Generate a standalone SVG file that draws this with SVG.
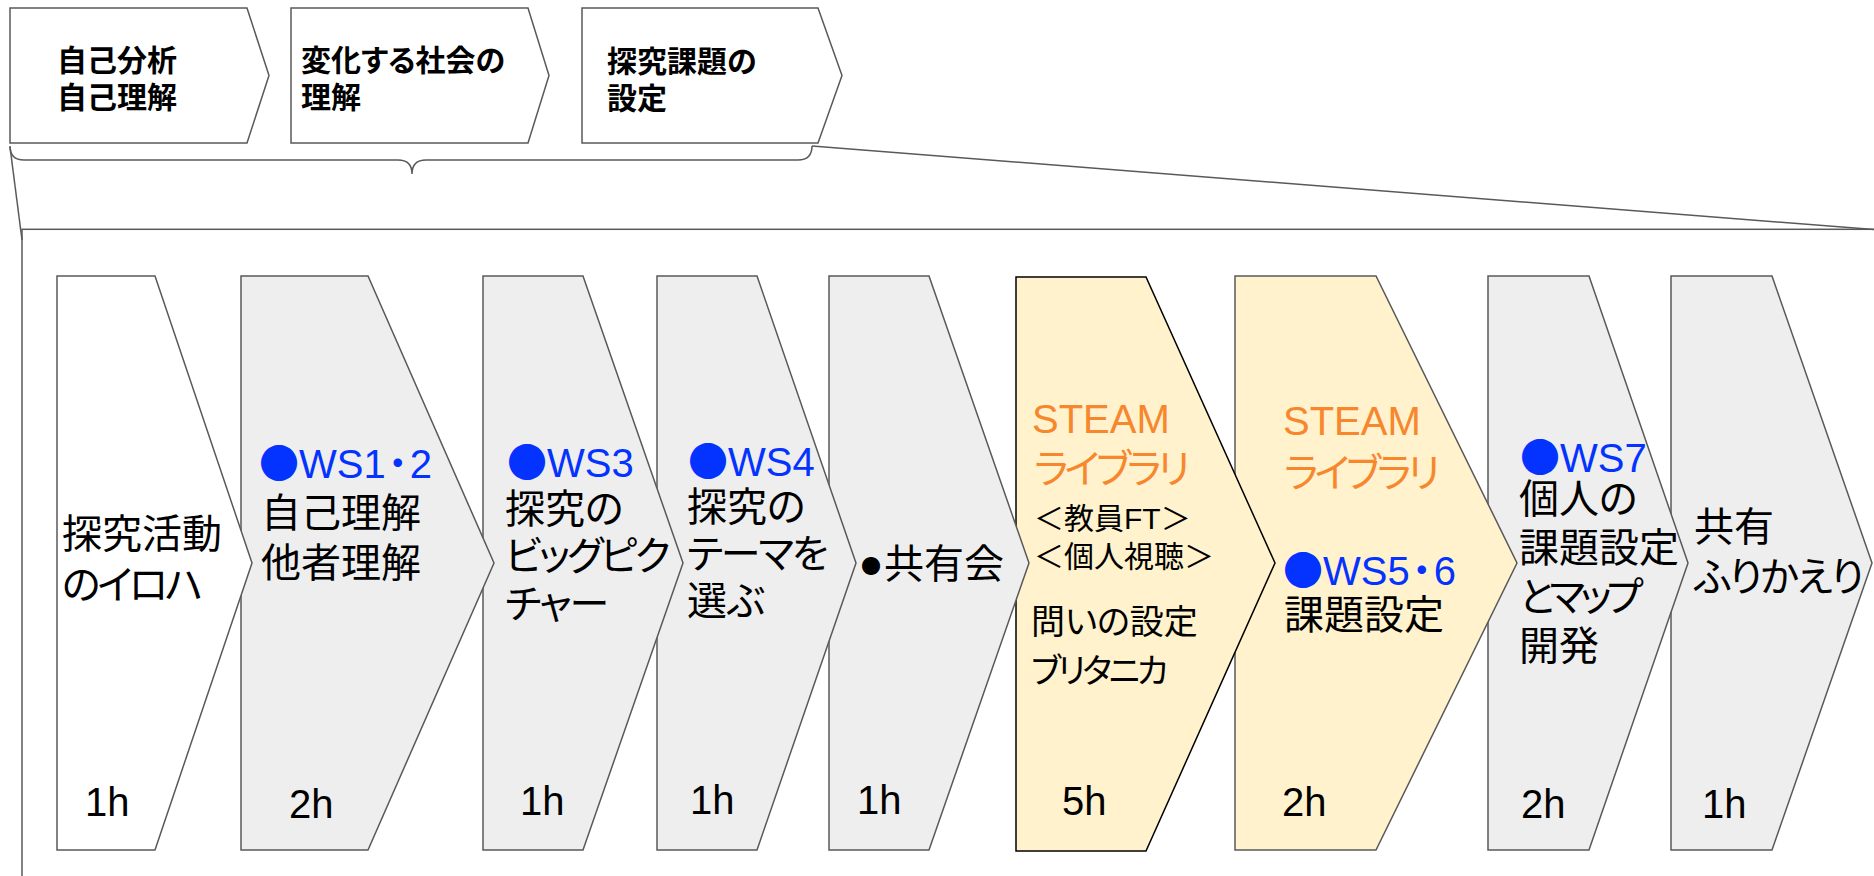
<svg xmlns="http://www.w3.org/2000/svg" width="1874" height="876" viewBox="0 0 1874 876">
<style>
.ln{fill:none;stroke:#595959;stroke-width:1.5}
.wht{fill:#ffffff;stroke:#595959;stroke-width:1.5}
.gray{fill:#eeeeee;stroke:#595959;stroke-width:1.5}
.yel{fill:#fff2cc;stroke:#595959;stroke-width:1.5}
.yelk{fill:#fff2cc;stroke:#000000;stroke-width:1.5}
text{font-family:"Liberation Sans","Noto Sans CJK JP",sans-serif;fill:#000000;font-feature-settings:"palt" 1}
.t{font-size:40px}
.hd{font-size:30px;font-weight:bold}
.s{font-size:30px}
.m{font-size:34px}
.b{fill:#0433ff}
.o{fill:#f7872d}
.dot{font-family:"Noto Sans CJK JP",sans-serif}
</style>
<rect x="0" y="0" width="1874" height="876" fill="#ffffff"/>
<g id="connectors">
<path class="ln" d="M10,146 Q10,160 24,160 L398,160 Q412,160 412,174 Q412,160 426,160 L798,160 Q812,160 812,146"/>
<path class="ln" d="M10,147 L22,240"/>
<path class="ln" d="M812,146 L1880,230"/>
</g>
<g id="frame">
<rect class="ln" x="22" y="229.3" width="1900" height="700"/>
</g>
<g id="top1">
<polygon class="wht" points="10,8 247,8 269,75.5 247,143 10,143"/>
<text class="hd" x="57" y="70.5">自己分析</text>
<text class="hd" x="57" y="107.5">自己理解</text>
</g>
<g id="top2">
<polygon class="wht" points="291,8 528,8 549,75.5 528,143 291,143"/>
<text class="hd" x="301" y="70.5">変化する社会の</text>
<text class="hd" x="301" y="107.5">理解</text>
</g>
<g id="top3">
<polygon class="wht" points="582,8 818,8 842,75.5 818,143 582,143"/>
<text class="hd" x="607" y="71.5">探究課題の</text>
<text class="hd" x="607" y="109">設定</text>
</g>
<g id="step9">
<polygon class="gray" points="1671,276 1772,276 1872,563 1772,850 1671,850"/>
<text class="t" x="1694" y="541">共有</text>
<text class="t" x="1694" y="591" letter-spacing="-2.2">ふりかえり</text>
<text class="t" x="1702" y="818">1h</text>
</g>
<g id="step8">
<polygon class="gray" points="1488,276 1589,276 1688,563 1589,850 1488,850"/>
<text class="t b" x="1520" y="472"><tspan class="dot">●</tspan>WS7</text>
<text class="t" x="1519" y="513">個人の</text>
<text class="t" x="1519" y="562">課題設定</text>
<text class="t" x="1519" y="611" letter-spacing="-5">とマップ</text>
<text class="t" x="1519" y="660">開発</text>
<text class="t" x="1521" y="818">2h</text>
</g>
<g id="step7">
<polygon class="yel" points="1235,276 1376,276 1517,563 1376,850 1235,850"/>
<text class="t o" x="1283" y="435">STEAM</text>
<text class="t o" x="1284" y="487" letter-spacing="-4">ライブラリ</text>
<text class="t b" x="1283" y="585"><tspan class="dot">●</tspan>WS5<tspan dx="2">・</tspan><tspan dx="2">6</tspan></text>
<text class="t" x="1284" y="629">課題設定</text>
<text class="t" x="1282" y="816">2h</text>
</g>
<g id="step6">
<polygon class="yelk" points="1016,277 1146,277 1275,563 1146,851 1016,851"/>
<text class="t o" x="1032" y="433">STEAM</text>
<text class="t o" x="1034" y="483" letter-spacing="-4">ライブラリ</text>
<text class="s" x="1034" y="529">＜教員FT＞</text>
<text class="s" x="1034" y="567">＜個人視聴＞</text>
<text class="m" x="1031" y="634">問いの設定</text>
<text class="m" x="1031" y="683" letter-spacing="-3.2">ブリタニカ</text>
<text class="t" x="1062" y="815">5h</text>
</g>
<g id="step5">
<polygon class="gray" points="829,276 929,276 1029,563 929,850 829,850"/>
<text class="t" x="861" y="578"><tspan class="dot" font-size="20" dy="-4">●</tspan><tspan x="884" dy="4">共有会</tspan></text>
<text class="t" x="857" y="814">1h</text>
</g>
<g id="step4">
<polygon class="gray" points="657,276 757,276 856,563 757,850 657,850"/>
<text class="t b" x="688" y="476"><tspan class="dot">●</tspan>WS4</text>
<text class="t" x="687" y="521">探究の</text>
<text class="t" x="687" y="568" letter-spacing="-2.3">テーマを</text>
<text class="t" x="687" y="615">選ぶ</text>
<text class="t" x="690" y="814">1h</text>
</g>
<g id="step3">
<polygon class="gray" points="483,276 583,276 683,563 583,850 483,850"/>
<text class="t b" x="507" y="477"><tspan class="dot">●</tspan>WS3</text>
<text class="t" x="505" y="523">探究の</text>
<text class="t" x="505" y="570" letter-spacing="-3">ビッグピク</text>
<text class="t" x="505" y="618" letter-spacing="-2">チャー</text>
<text class="t" x="520" y="815">1h</text>
</g>
<g id="step2">
<polygon class="gray" points="241,276 368,276 494,563 368,850 241,850"/>
<text class="t b" x="259" y="478"><tspan class="dot">●</tspan>WS1<tspan dx="2">・</tspan><tspan dx="2">2</tspan></text>
<text class="t" x="261" y="527">自己理解</text>
<text class="t" x="261" y="577">他者理解</text>
<text class="t" x="289" y="818">2h</text>
</g>
<g id="step1">
<polygon class="wht" points="57,276 155,276 252,563 155,850 57,850"/>
<text class="t" x="62" y="548">探究活動</text>
<text class="t" x="62" y="599" letter-spacing="-3.3">のイロハ</text>
<text class="t" x="85" y="816">1h</text>
</g>
</svg>
